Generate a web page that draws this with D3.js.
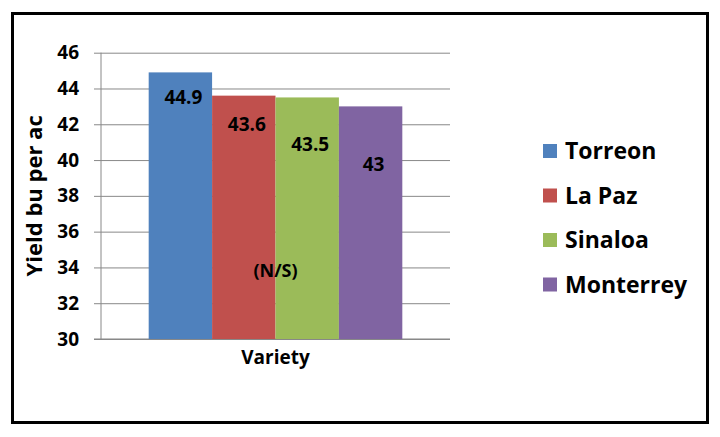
<!DOCTYPE html>
<html>
<head>
<meta charset="utf-8">
<script src="https://cdn.jsdelivr.net/npm/d3@7"></script>
<style>
  body { margin: 0; background: #fff; }
  text { font-family: "Open Sans", sans-serif; font-weight: bold; fill: #000; }
</style>
</head>
<body>
<svg width="720" height="437"></svg>
<script>
// chart data
var categories = ["Variety"]
var series = ["Torreon", "La Paz", "Sinaloa", "Monterrey"]
var yields = [44.9, 43.6, 43.5, 43]
var labelAt = [43.5, 42, 40.9, 39.75]   // where each value label sits, in bu/ac
var colors = ["#4F81BD", "#C0504D", "#9BBB59", "#8064A2"]
var yTicks = [30, 32, 34, 36, 38, 40, 42, 44, 46]
var note = "(N/S)", noteAt = 33.8

var svg = d3.select("svg")

// frame
svg.append("rect")
  .attr("x", 12.5).attr("y", 13.5)
  .attr("width", 695).attr("height", 409)
  .attr("fill", "#fff").attr("stroke", "#000").attr("stroke-width", 3)

var plotLeft = 101, plotTop = 52.7, w = 349, h = 286.3

var y = d3.scaleLinear().domain([30, 46]).range([h, 0])
var x0 = d3.scaleBand().domain(categories).range([0, w]).paddingOuter(0.188).paddingInner(0)
var x1 = d3.scaleBand().domain(series).range([0, x0.bandwidth()])

var g = svg.append("g").attr("transform", "translate(" + plotLeft + "," + plotTop + ")")

// gridlines + y ticks
var yAxis = g.append("g")
  .call(d3.axisLeft(y).tickValues(yTicks).tickSize(-w).tickPadding(22))
yAxis.select(".domain").remove()
yAxis.selectAll(".tick line")
  .attr("x1", -7).attr("x2", w)
  .attr("stroke", "#888").attr("stroke-width", 1)
yAxis.selectAll(".tick text")
  .style("font-size", "19px")

// axis lines
g.append("line").attr("x1", 0).attr("x2", 0).attr("y1", 0).attr("y2", h)
  .attr("stroke", "#888")
g.append("line").attr("x1", -7).attr("x2", w).attr("y1", h).attr("y2", h)
  .attr("stroke", "#888")

// bars
g.append("g")
  .selectAll("rect")
  .data(series)
  .enter()
  .append("rect")
  .attr("x", function(d) { return x0("Variety") + x1(d) })
  .attr("width", x1.bandwidth())
  .attr("y", function(d, i) { return y(yields[i]) })
  .attr("height", function(d, i) { return h - y(yields[i]) })
  .attr("fill", function(d, i) { return colors[i] })

// value labels
g.append("g")
  .selectAll("text")
  .data(series)
  .enter()
  .append("text")
  .attr("x", function(d) { return x0("Variety") + x1(d) + x1.bandwidth() / 2 + 3 })
  .attr("y", function(d, i) { return y(labelAt[i]) })
  .attr("text-anchor", "middle")
  .attr("dy", "0.35em")
  .style("font-size", "19px")
  .text(function(d, i) { return yields[i] })

g.append("text")
  .attr("x", x0("Variety") + x0.bandwidth() / 2)
  .attr("y", y(noteAt))
  .attr("text-anchor", "middle")
  .attr("dy", "0.35em")
  .style("font-size", "18px")
  .text(note)

// x label
g.append("text")
  .attr("x", x0("Variety") + x0.bandwidth() / 2)
  .attr("y", h + 18)
  .attr("text-anchor", "middle")
  .attr("dy", "0.35em")
  .style("font-size", "19px")
  .text(categories[0])

// y title
svg.append("text")
  .attr("transform", "translate(34," + (plotTop + h / 2) + ") rotate(-90)")
  .attr("text-anchor", "middle")
  .attr("dy", "0.35em")
  .style("font-size", "22px")
  .text("Yield bu per ac")

// legend
var legend = svg.append("g").attr("transform", "translate(543,151)")
  .selectAll("g")
  .data(series)
  .enter()
  .append("g")
  .attr("transform", function(d, i) { return "translate(0," + i * 44.5 + ")" })
legend.append("rect")
  .attr("x", 0).attr("y", -7).attr("width", 14).attr("height", 14)
  .attr("fill", function(d, i) { return colors[i] })
legend.append("text")
  .attr("x", 22).attr("dy", "0.35em")
  .style("font-size", "23px")
  .text(function(d) { return d })
</script>
</body>
</html>
